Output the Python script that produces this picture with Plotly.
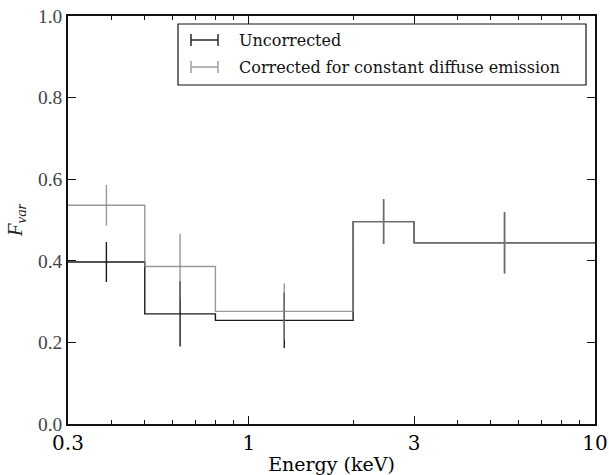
import numpy as np
import plotly.graph_objects as go

# Energy bin edges (keV)
bin_edges = [0.3, 0.5, 0.8, 2.0, 3.0, 10.0]
# Fractional variability, uncorrected
fvar_uncorr = [0.397, 0.270, 0.254, 0.496, 0.444]
fvar_uncorr_err = [0.049, 0.080, 0.068, 0.055, 0.075]
# Fractional variability, corrected for constant diffuse emission
fvar_corr = [0.536, 0.386, 0.276, 0.496, 0.444]
fvar_corr_err = [0.050, 0.080, 0.069, 0.055, 0.075]

series_names = ["Uncorrected", "Corrected for constant diffuse emission"]
x_major_ticks = [0.3, 1, 3, 10]
x_major_text = ["0.3", "1", "3", "10"]
x_minor_ticks = [0.4, 0.5, 0.6, 0.7, 0.8, 0.9, 2, 4, 5, 6, 7, 8, 9]
y_ticks = [0.0, 0.2, 0.4, 0.6, 0.8, 1.0]
y_text = ["0.0", "0.2", "0.4", "0.6", "0.8", "1.0"]

edges = np.array(bin_edges)
centers = np.sqrt(edges[:-1] * edges[1:])

BLACK = "#1a1a1a"
GREY = "rgba(128,128,128,0.8)"
SERIF = "'DejaVu Serif', 'Liberation Serif', serif"
THIN = "'Liberation Serif', 'Times New Roman', serif"

fig = go.Figure()
for vals, errs, col in [(fvar_uncorr, fvar_uncorr_err, BLACK),
                        (fvar_corr, fvar_corr_err, GREY)]:
    fig.add_trace(go.Scatter(
        x=list(edges), y=list(vals) + [vals[-1]], mode="lines",
        line=dict(color=col, width=1.4, shape="hv"), showlegend=False,
        hoverinfo="skip"))
    fig.add_trace(go.Scatter(
        x=list(centers), y=vals, mode="markers",
        marker=dict(size=1, color=col),
        error_y=dict(type="data", array=errs, visible=True, color=col,
                     thickness=1.4, width=0),
        showlegend=False))

# manual legend (matplotlib style)
L, T, W, H = 68, 16, 527, 408
def px(x):
    return (x - L) / W
def py(y):
    return (T + H - y) / H

shapes = [dict(type="rect", xref="paper", yref="paper",
               x0=px(178), x1=px(586), y0=py(85), y1=py(24),
               line=dict(color="#111", width=1.2), fillcolor="white", layer="above")]
annots = []
for i, (name, col) in enumerate(zip(series_names, [BLACK, "#999999"])):
    yy = 40 + 27 * i
    shapes.append(dict(type="line", xref="paper", yref="paper",
                       x0=px(191), x1=px(218), y0=py(yy), y1=py(yy),
                       line=dict(color=col, width=1.4), layer="above"))
    for xx in (191, 218):
        shapes.append(dict(type="line", xref="paper", yref="paper",
                           x0=px(xx), x1=px(xx), y0=py(yy - 6), y1=py(yy + 6),
                           line=dict(color=col, width=1.4), layer="above"))
    annots.append(dict(xref="paper", yref="paper", x=px(237), y=py(yy),
                       xanchor="left", yanchor="middle", showarrow=False,
                       text=name, font=dict(family=SERIF, size=16, color="#111")))

fig.update_layout(
    width=609, height=475,
    margin=dict(l=L, r=609 - L - W, t=T, b=475 - T - H, autoexpand=False),
    paper_bgcolor="white", plot_bgcolor="white",
    shapes=shapes, annotations=annots,
    xaxis=dict(type="log", range=[np.log10(0.3), 1.0], automargin=False,
               tickvals=x_major_ticks, ticktext=x_major_text,
               ticks="inside", ticklen=8, tickwidth=1.2, tickcolor="#111",
               minor=dict(tickvals=x_minor_ticks, ticks="inside", ticklen=4,
                          tickwidth=1, tickcolor="#111", showgrid=False),
               showgrid=False, zeroline=False,
               showline=True, linecolor="#111", linewidth=1.5, mirror="ticks",
               tickfont=dict(family=SERIF, size=20, color="#000"),
               title=dict(text="Energy (keV)", standoff=5,
                          font=dict(family=SERIF, size=19, color="#000"))),
    yaxis=dict(range=[0, 1], tickvals=y_ticks, ticktext=y_text, automargin=False,
               ticks="inside", ticklen=8, tickwidth=1.2, tickcolor="#111",
               showgrid=False, zeroline=False,
               showline=True, linecolor="#111", linewidth=1.5, mirror="ticks",
               tickfont=dict(family=THIN, size=19.5, color="#444"),
               title=dict(text="<i>F</i><sub><i>var</i></sub>", standoff=10,
                          font=dict(family=THIN, size=21, color="#222"))),
)

fig.write_html("out.html", config={"displayModeBar": False},
               post_script="document.body.style.margin='0';document.body.style.padding='0';")
